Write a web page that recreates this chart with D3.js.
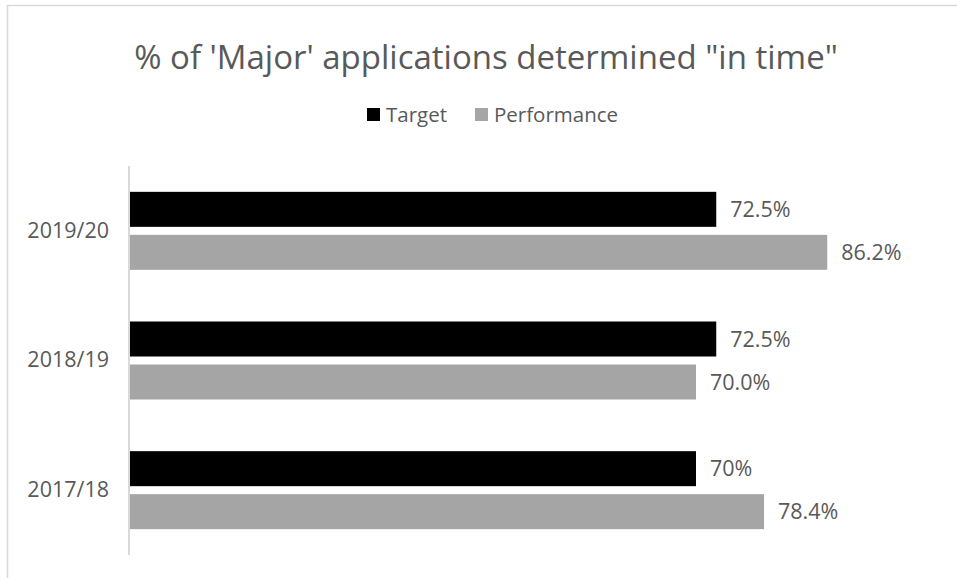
<!DOCTYPE html>
<html>
<head>
<meta charset="utf-8">
<script src="https://cdn.jsdelivr.net/npm/d3@7"></script>
<style>
  html, body { margin: 0; padding: 0; background: #fff; }
  svg { display: block; }
  text { font-family: "Open Sans", sans-serif; fill: #595959; }
</style>
</head>
<body>
<svg id="chart" width="957" height="578"></svg>
<script>
const categories = ["2019/20", "2018/19", "2017/18"];
const seriesNames = ["Target", "Performance"];
const targetValues = [72.5, 72.5, 70];
const performanceValues = [86.2, 70.0, 78.4];
const targetLabels = ["72.5%", "72.5%", "70%"];
const performanceLabels = ["86.2%", "70.0%", "78.4%"];
const titleText = "% of 'Major' applications determined \"in time\"";

const colors = { Target: "#000000", Performance: "#a5a5a5" };

const svg = d3.select("#chart");
const W = 957, H = 578;

svg.append("rect").attr("width", W).attr("height", H).attr("fill", "#fff");
svg.append("path")
  .attr("d", `M7.5,${H} L7.5,5.5 L${W},5.5`)
  .attr("fill", "none").attr("stroke", "#d9d9d9").attr("stroke-width", 1.5);

const plot = { left: 129, right: 939, top: 166, bottom: 555 };

const x = d3.scaleLinear().domain([0, 100]).range([plot.left, plot.right]);
const y = d3.scaleBand().domain(categories).range([plot.top, plot.bottom]).padding(0);
const y1 = d3.scaleBand().domain(seriesNames).range([0, y.bandwidth()])
  .paddingInner(0.186).paddingOuter(0.601);

const rows = categories.map((c, i) => ({
  cat: c,
  vals: [
    { s: "Target", v: targetValues[i], label: targetLabels[i] },
    { s: "Performance", v: performanceValues[i], label: performanceLabels[i] }
  ]
}));

const g = svg.append("g");
const grp = g.selectAll("g.grp").data(rows).join("g")
  .attr("class", "grp")
  .attr("transform", d => `translate(0,${y(d.cat)})`);

grp.selectAll("rect").data(d => d.vals).join("rect")
  .attr("x", x(0))
  .attr("y", d => y1(d.s))
  .attr("width", d => x(d.v) - x(0))
  .attr("height", y1.bandwidth())
  .attr("fill", d => colors[d.s]);

grp.selectAll("text.val").data(d => d.vals).join("text")
  .attr("class", "val")
  .attr("x", d => x(d.v) + 14)
  .attr("y", d => y1(d.s) + y1.bandwidth() / 2)
  .attr("dy", "0.36em")
  .attr("font-size", 21.5)
  .text(d => d.label);

const yAxis = d3.axisLeft(y).tickSize(0).tickPadding(20);
const ax = svg.append("g").attr("transform", `translate(${plot.left},0)`).call(yAxis);
ax.select(".domain").attr("stroke", "#d9d9d9").attr("stroke-width", 2)
  .attr("d", `M0,${plot.top}V${plot.bottom}`);
ax.selectAll(".tick text")
  .attr("font-size", 21.5).attr("font-family", "'Open Sans', sans-serif").attr("fill", "#595959");

svg.append("text")
  .attr("x", 486).attr("y", 57)
  .attr("text-anchor", "middle").attr("dy", "0.36em")
  .attr("font-size", 33)
  .text(titleText);

const legend = svg.append("g").attr("transform", "translate(0,114.5)");
const legItems = [
  { s: "Target", x: 367 },
  { s: "Performance", x: 475 }
];
legend.selectAll("rect").data(legItems).join("rect")
  .attr("x", d => d.x).attr("y", -6.5).attr("width", 13).attr("height", 13)
  .attr("fill", d => colors[d.s]);
legend.selectAll("text").data(legItems).join("text")
  .attr("x", d => d.x + 19).attr("y", 0).attr("dy", "0.36em")
  .attr("font-size", 20.5)
  .text(d => d.s);
</script>
</body>
</html>
